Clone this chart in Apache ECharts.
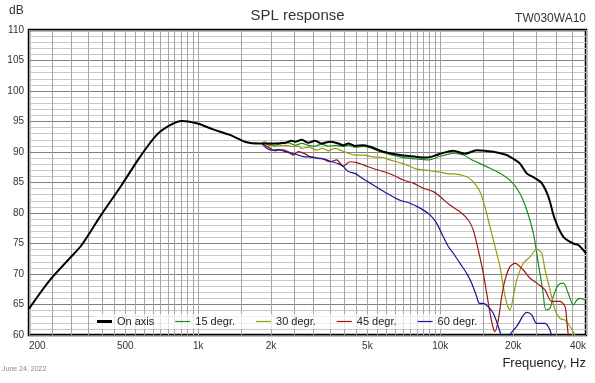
<!DOCTYPE html>
<html>
<head>
<meta charset="utf-8">
<script src="https://cdn.jsdelivr.net/npm/echarts@6/dist/echarts.min.js"></script>
<style>
html,body{margin:0;padding:0;background:#fff;}
#chart{width:595px;height:383px;}
</style>
</head>
<body>
<div id="chart"></div>
<script>
// ---- Data (frequency in Hz, level in dB) ----
const onAxisFreq = [200,244,295,330,393,483,575,674,765,855,986,1154,1353,1586,1800,2076,2283,2433,2512,2677,2851,3039,3237,3503,3790,3977,4171,4444,4809,5817,6817,7994,8790,9667,9977,11320,12650,14140,16560,18810,19410,20360,21350,22760,24630,26240,27950,29790,32240,35460,37180,40000];
const onAxisDb   = [64.3,69.0,72.6,74.75,79.4,84.6,89.2,92.8,94.4,95.1,94.7,93.7,92.8,91.6,91.4,91.4,91.5,91.85,91.7,92.0,91.5,91.85,91.4,91.7,91.4,91.1,91.4,91.0,91.1,90.05,89.5,89.2,89.1,89.5,89.7,90.2,89.7,90.3,90.05,89.5,89.2,88.7,88.1,86.5,85.7,84.9,82.7,78.9,76.1,75.0,74.75,73.4];

const deg15Freq = [1829,1948,2076,2213,2357,2512,2677,2851,3039,3237,3447,3732,3977,4171,4444,4809,5817,6817,7994,8925,9977,10965,11320,12450,13690,15560,17650,19720,21350,22760,24240,25400,26490,27350,28400,29310,30740,32240,33800,35460,36610,37770,40000];
const deg15Db   = [91.4,91.3,91.1,91.4,91.5,91.1,91.4,91.1,90.95,91.3,90.95,91.1,90.9,91.1,90.8,90.9,89.9,89.2,88.85,88.7,89.3,89.7,89.8,89.5,88.6,87.6,86.5,85.1,83.2,80.5,76.7,71.75,67.4,64.1,64.4,66.3,68.2,68.5,66.8,64.9,65.7,66.0,65.7];

const deg30Freq = [1829,1888,1948,2076,2283,2433,2592,2677,2851,3087,3237,3447,3672,3915,4171,4444,4809,5290,5817,6198,7036,7994,9070,9977,10965,11320,12860,13690,14590,15300,16050,16830,17650,18220,18810,19410,20030,20690,22030,23490,25040,26240,27080,28400,29790,31240,32760,34360,36020,40000];
const deg30Db   = [91.4,91.7,91.1,90.95,91.1,90.9,90.95,90.6,90.8,90.3,90.6,90.2,90.6,90.2,89.8,89.5,89.5,89.2,89.1,88.7,88.1,87.2,86.95,86.7,86.4,86.4,85.95,85.1,83.5,81.0,77.75,74.5,71.2,67.9,65.2,64.1,66.3,69.0,71.75,72.8,74.05,73.4,70.7,67.4,64.1,62.7,62.45,61.4,60.0,57.0];

const deg45Freq = [1829,1948,2076,2213,2357,2471,2592,2761,2944,3237,3503,3732,3977,4238,4480,4809,5290,5817,6397,7036,7739,8511,9361,9977,10965,12070,13060,13690,14360,15060,15560,16050,16560,16830,17370,17940,18510,19410,20360,22030,23490,25040,27080,28860,31240,32760,33290,33800,35000];
const deg45Db   = [91.4,90.8,90.2,90.4,90.05,89.5,90.05,89.7,89.1,88.95,88.4,88.7,87.7,88.4,88.3,87.9,87.3,86.8,86.2,85.4,84.9,84.05,83.5,82.7,81.3,80.2,78.85,77.2,73.9,70.1,66.8,63.6,61.1,60.55,62.45,66.3,69.0,71.2,71.75,70.65,69.3,68.5,67.4,65.5,65.5,64.65,62.45,60.0,56.0];

const deg60Freq = [1829,1919,2012,2142,2283,2433,2592,2761,2944,3134,3341,3561,3790,3977,4171,4444,4660,5126,5636,6198,6817,7499,8248,9070,9667,10294,10795,11320,12070,12860,13485,14140,14500,15060,15795,16560,17370,17940,18400,18810,20690,22760,23870,25040,27080,28400,28860,30000];
const deg60Db   = [91.4,90.6,90.3,90.4,90.05,89.8,89.5,89.2,89.2,88.95,88.8,88.4,88.1,87.6,86.8,86.5,85.95,84.9,83.9,82.95,82.1,81.6,80.8,79.7,78.3,76.1,74.5,73.4,71.75,70.1,68.5,66.3,65.2,65.2,64.6,63.55,61.4,59.7,59.0,59.5,61.4,63.7,63.3,61.9,61.9,60.8,59.7,57.0];

const seriesNames = ['On axis','15 degr.','30 degr.','45 degr.','60 degr.'];
const seriesColors = ['#000000','#1c8c1c','#9a9a10','#a01414','#14149c'];

const xLabelValues = [200,500,1000,2000,5000,10000,20000,40000];
const xLabelTexts  = ['200','500','1k','2k','5k','10k','20k','40k'];
const yLabelValues = [60,65,70,75,80,85,90,95,100,105,110];

// vertical grid lines: steps of 0.5 in each decade
const gridMultipliers = [1,1.5,2,2.5,3,3.5,4,4.5,5,5.5,6,6.5,7,7.5,8,8.5,9,9.5];
const gridDecades = [100,1000,10000];
// ---------------------------------------------

const gridValues = [];
gridDecades.forEach(d => {
  gridMultipliers.forEach(m => {
    const v = Math.round(d * m);
    if (v >= 200 && v <= 40000 && gridValues.indexOf(v) < 0) gridValues.push(v);
  });
});
gridValues.sort((a,b)=>a-b);

const FONT = 'Liberation Sans, Arial, sans-serif';
const chart = echarts.init(document.getElementById('chart'), null, {renderer: 'canvas'});

const allData = [
  [onAxisFreq, onAxisDb], [deg15Freq, deg15Db], [deg30Freq, deg30Db],
  [deg45Freq, deg45Db], [deg60Freq, deg60Db]
];

const series = allData.map((pair, k) => ({
  name: seriesNames[k],
  type: 'line',
  xAxisIndex: 0,
  yAxisIndex: 0,
  data: pair[0].map((f, i) => [f, pair[1][i]]),
  symbol: 'none',
  showSymbol: false,
  smooth: 0.3,
  clip: true,
  z: k === 0 ? 5 : 3,
  lineStyle: {color: seriesColors[k], width: k === 0 ? 2 : 1.2},
  itemStyle: {color: seriesColors[k]}
}));

const legendData = seriesNames.map((n, k) => ({
  name: n,
  icon: k === 0 ? 'path://M0,0 H15 V3 H0 Z' : 'path://M0,0 H15 V1.2 H0 Z',
  itemStyle: {color: seriesColors[k]}
}));

chart.setOption({
  animation: false,
  backgroundColor: '#ffffff',
  title: {
    text: 'SPL response',
    left: 'center',
    top: 3,
    textStyle: {fontFamily: FONT, fontSize: 15, fontWeight: 'normal', color: '#333'}
  },
  graphic: [
    {type: 'text', left: 9, top: 5, style: {text: 'dB', font: '12px ' + FONT, fill: '#333'}},
    {type: 'text', right: 9, top: 13, style: {text: 'TW030WA10', font: '12px ' + FONT, fill: '#333'}},
    {type: 'text', right: 9, top: 357, style: {text: 'Frequency, Hz', font: '13px ' + FONT, fill: '#222'}},
    {type: 'text', left: 2, top: 366, style: {text: 'June 24, 2022', font: '7px ' + FONT, fill: '#888'}}
  ],
  legend: {
    data: legendData,
    left: 93,
    top: 314,
    itemWidth: 15,
    itemHeight: 10,
    itemGap: 21,
    padding: [2, 4, 2, 4],
    backgroundColor: 'rgba(255,255,255,0.7)',
    symbolKeepAspect: true,
    textStyle: {fontFamily: FONT, fontSize: 11, color: '#222'},
    selectedMode: false
  },
  grid: {
    left: 29, right: 9, top: 30, bottom: 48,
    show: true, borderColor: '#000', borderWidth: 2.5, backgroundColor: 'transparent'
  },
  xAxis: [{
    type: 'log',
    logBase: 10,
    min: 200,
    max: 40000,
    axisLine: {show: false},
    axisTick: {show: false, customValues: gridValues},
    splitLine: {show: true, lineStyle: {color: '#a4a4a4', width: 1}},
    minorTick: {show: false},
    axisLabel: {
      customValues: xLabelValues,
      formatter: v => { const i = xLabelValues.indexOf(Math.round(v)); return i >= 0 ? xLabelTexts[i] : ''; },
      fontFamily: FONT, fontSize: 10, color: '#333', margin: 6,
      alignMinLabel: 'left', alignMaxLabel: 'right'
    }
  }],
  yAxis: [{
    type: 'value',
    min: 60, max: 110, interval: 1,
    axisLine: {show: false},
    axisTick: {show: false},
    splitLine: {show: true, lineStyle: {color: ['#808080','#c8c8c8','#c8c8c8','#c8c8c8','#c8c8c8'], width: 1}},
    axisLabel: {
      customValues: yLabelValues,
      fontFamily: FONT, fontSize: 10, color: '#333', margin: 5
    }
  }],
  series: series
});
</script>
</body>
</html>
